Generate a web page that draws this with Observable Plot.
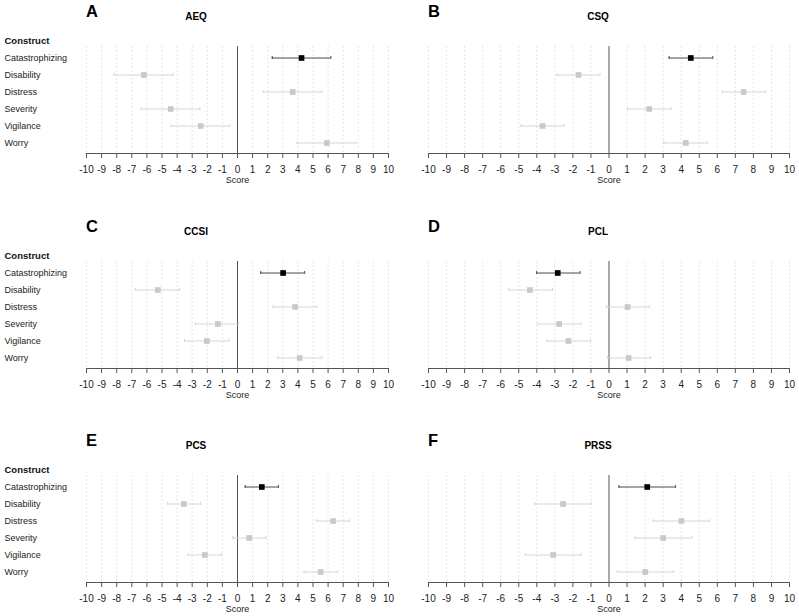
<!DOCTYPE html>
<html><head><meta charset="utf-8">
<script src="https://cdn.jsdelivr.net/npm/d3@7"></script>
<script src="https://cdn.jsdelivr.net/npm/@observablehq/plot@0.6"></script>
<style>
body{margin:0;background:#fff;font-family:"Liberation Sans",Arial,sans-serif;}
#wrap{position:relative;width:799px;height:616px;overflow:hidden;}
.panel{position:absolute;}
.letter{position:absolute;font-size:16.5px;font-weight:bold;line-height:16px;color:#000;}
.title{position:absolute;font-size:10px;font-weight:bold;line-height:10px;text-align:center;color:#000;width:200px;}
</style></head><body><div id="wrap"></div>
<script>
const constructs = ["Catastrophizing","Disability","Distress","Severity","Vigilance","Worry"];
const panelLetters = ["A","B","C","D","E","F"];
const panelTitles = ["AEQ","CSQ","CCSI","PCL","PCS","PRSS"];
const xTicks = d3.range(-10, 11);

const estAEQ  = [4.24,-6.20,3.66,-4.42,-2.43,5.92];
const lowAEQ  = [2.30,-8.17,1.70,-6.38,-4.39,3.95];
const highAEQ = [6.18,-4.26,5.58,-2.49,-0.51,7.84];

const estCSQ  = [4.53,-1.69,7.46,2.23,-3.68,4.25];
const lowCSQ  = [3.33,-2.89,6.28,1.03,-4.88,3.04];
const highCSQ = [5.75,-0.50,8.69,3.44,-2.49,5.45];

const estCCSI  = [3.02,-5.27,3.81,-1.30,-2.03,4.12];
const lowCCSI  = [1.54,-6.77,2.36,-2.80,-3.51,2.67];
const highCCSI = [4.45,-3.84,5.25,0.07,-0.57,5.58];

const estPCL  = [-2.84,-4.38,1.03,-2.76,-2.25,1.09];
const lowPCL  = [-4.01,-5.56,-0.15,-3.96,-3.43,-0.09];
const highPCL = [-1.60,-3.13,2.25,-1.55,-1.03,2.30];

const estPCS  = [1.61,-3.55,6.33,0.77,-2.16,5.51];
const lowPCS  = [0.51,-4.63,5.25,-0.31,-3.26,4.41];
const highPCS = [2.71,-2.43,7.43,1.87,-1.04,6.64];

const estPRSS  = [2.12,-2.54,4.01,3.00,-3.09,2.01];
const lowPRSS  = [0.55,-4.11,2.45,1.44,-4.64,0.46];
const highPRSS = [3.68,-0.99,5.58,4.59,-1.55,3.57];

const series = [
  [estAEQ, lowAEQ, highAEQ],
  [estCSQ, lowCSQ, highCSQ],
  [estCCSI, lowCCSI, highCCSI],
  [estPCL, lowPCL, highPCL],
  [estPCS, lowPCS, highPCS],
  [estPRSS, lowPRSS, highPRSS]
];

const wrap = document.getElementById("wrap");
const rowTops = [0, 215, 429];
const font = "Liberation Sans, Arial, sans-serif";

series.forEach(([est, lo, hi], i) => {
  const col = i % 2, row = Math.floor(i / 2);
  const left = col ? 400 : 0;
  const top = rowTops[row];
  const width = col ? 399 : 400;
  const mL = col ? 28 : 86, mR = col ? 10 : 12;
  const data = constructs.map((c, j) => ({construct: c, est: est[j], lo: lo[j], hi: hi[j], main: j === 0}));
  const barColor = d => d.main ? "#4a4a4a" : "#d6d6d6";
  const ptColor = d => d.main ? "#000000" : "#c9c9c9";
  const marks = [
    Plot.ruleX(xTicks.filter(t => t !== 0), {stroke: "#e6e6e6", strokeDasharray: "2,2", strokeWidth: 1}),
    Plot.ruleX([0], {stroke: "#555", strokeWidth: 1}),
    Plot.frame({anchor: "bottom", stroke: "#555"}),
    Plot.axisX({ticks: xTicks, tickSize: 5, tickPadding: 7, fontSize: 10, stroke: "#555", color: "#222", tickFormat: d => String(d), label: null}),
    Plot.ruleY(data, {y: "construct", x1: "lo", x2: "hi", stroke: barColor, strokeWidth: 1}),
    Plot.tickX(data, {x: "lo", y: "construct", stroke: barColor, insetTop: 7, insetBottom: 7}),
    Plot.tickX(data, {x: "hi", y: "construct", stroke: barColor, insetTop: 7, insetBottom: 7}),
    Plot.dot(data, {x: "est", y: "construct", symbol: "square", r: 3.2, fill: ptColor, stroke: null}),
    Plot.text(["Score"], {frameAnchor: "bottom", dy: 29.5, fontSize: 9, fill: "#222"})
  ];
  if (!col) {
    marks.push(Plot.text(constructs, {y: d => d, frameAnchor: "left", textAnchor: "start", dx: 4 - mL, fontSize: 9, fill: "#222"}));
    marks.push(Plot.text(["Construct"], {frameAnchor: "top-left", textAnchor: "start", dx: 4 - mL, dy: -9, fontSize: 9.5, fontWeight: "bold", fill: "#111"}));
  }
  const chart = Plot.plot({
    width, height: 187,
    marginTop: 46, marginBottom: 34, marginLeft: mL, marginRight: mR,
    style: {fontFamily: font, background: "transparent"},
    x: {domain: [-10, 10], axis: null},
    y: {domain: constructs, type: "band", padding: 0, axis: null},
    marks
  });
  const p = document.createElement("div");
  p.className = "panel";
  p.style.left = left + "px"; p.style.top = top + "px";
  p.appendChild(chart);
  wrap.appendChild(p);

  const L = document.createElement("div");
  L.className = "letter";
  L.textContent = panelLetters[i];
  L.style.left = (left + mL) + "px";
  L.style.top = (top + 2.8) + "px";
  wrap.appendChild(L);

  const T = document.createElement("div");
  T.className = "title";
  T.textContent = panelTitles[i];
  const cx = col ? 598 : 196;
  T.style.left = (cx - 100) + "px";
  T.style.top = (top + 11.8) + "px";
  wrap.appendChild(T);
});
</script>
</body></html>
